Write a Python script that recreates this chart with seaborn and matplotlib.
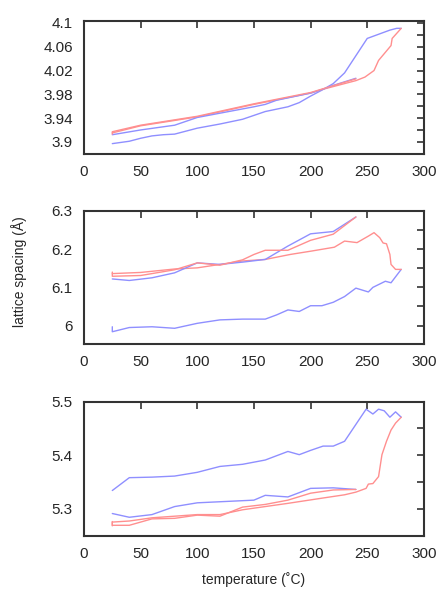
import numpy as np
import pandas as pd
import seaborn as sns
from matplotlib import pyplot as plt

# ---- top panel (a axis) ----
top_heat1_T = [25, 40, 50, 60, 70, 80, 100, 120, 140, 160, 180, 190, 200, 210, 220, 230, 250, 260, 270, 276, 280]
top_heat1_a = [3.897, 3.901, 3.906, 3.910, 3.912, 3.913, 3.923, 3.930, 3.938, 3.951, 3.959, 3.966, 3.977,
               3.987, 3.998, 4.016, 4.074, 4.081, 4.088, 4.091, 4.091]
top_cool1_T = [280, 272, 271, 260, 256, 248, 240, 230, 220, 210, 200, 150, 100, 50, 25]
top_cool1_a = [4.091, 4.074, 4.062, 4.037, 4.020, 4.009, 4.003, 3.998, 3.993, 3.988, 3.982, 3.963, 3.942,
               3.927, 3.915]
top_heat2_T = [25, 50, 80, 100, 150, 160, 170, 200, 210, 220, 240]
top_heat2_a = [3.912, 3.920, 3.928, 3.941, 3.959, 3.963, 3.970, 3.982, 3.988, 3.995, 4.007]
top_cool2_T = [240, 200, 150, 100, 50, 25, 25]
top_cool2_a = [4.006, 3.983, 3.964, 3.943, 3.928, 3.917, 3.913]

# ---- middle panel (c axis) ----
mid_heat1_T = [25, 25, 40, 60, 80, 100, 120, 140, 160, 170, 180, 190, 200, 210, 220, 230, 240, 251, 255,
               266, 271, 280]
mid_heat1_a = [5.997, 5.984, 5.995, 5.997, 5.993, 6.006, 6.015, 6.017, 6.017, 6.028, 6.041, 6.037, 6.052,
               6.052, 6.061, 6.076, 6.098, 6.088, 6.100, 6.116, 6.112, 6.147]
mid_cool1_T = [280, 275, 271, 270, 267, 264, 261, 256, 251, 241, 230, 221, 201, 182, 160, 140, 120, 100,
               80, 50, 25, 25]
mid_cool1_a = [6.147, 6.147, 6.160, 6.186, 6.214, 6.216, 6.230, 6.243, 6.234, 6.217, 6.221, 6.205, 6.195,
               6.186, 6.173, 6.169, 6.160, 6.151, 6.148, 6.139, 6.136, 6.140]
mid_heat2_T = [25, 40, 60, 80, 100, 120, 140, 160, 180, 200, 220, 240]
mid_heat2_a = [6.122, 6.118, 6.125, 6.138, 6.164, 6.160, 6.166, 6.173, 6.208, 6.240, 6.246, 6.284]
mid_cool2_T = [240, 220, 200, 180, 160, 150, 140, 120, 100, 80, 50, 25, 25]
mid_cool2_a = [6.284, 6.239, 6.223, 6.197, 6.197, 6.186, 6.172, 6.158, 6.164, 6.146, 6.131, 6.129, 6.136]

# ---- bottom panel (b axis) ----
bot_heat1_T = [25, 40, 60, 80, 100, 120, 140, 160, 180, 190, 200, 211, 220, 230, 249, 255, 260, 265, 270,
               275, 280]
bot_heat1_a = [5.334, 5.358, 5.359, 5.361, 5.368, 5.379, 5.383, 5.391, 5.407, 5.401, 5.409, 5.417, 5.417,
               5.426, 5.486, 5.477, 5.486, 5.483, 5.471, 5.481, 5.471]
bot_cool1_T = [280, 275, 271, 267, 263, 260, 255, 251, 249, 240, 230, 211, 180, 160, 140, 120, 100, 80,
               60, 40, 25, 25]
bot_cool1_a = [5.471, 5.460, 5.447, 5.426, 5.401, 5.360, 5.347, 5.346, 5.338, 5.331, 5.326, 5.320, 5.310,
               5.304, 5.298, 5.289, 5.289, 5.286, 5.283, 5.277, 5.275, 5.268]
bot_heat2_T = [25, 40, 60, 80, 100, 120, 150, 160, 180, 200, 220, 240]
bot_heat2_a = [5.291, 5.284, 5.289, 5.304, 5.311, 5.313, 5.316, 5.325, 5.322, 5.338, 5.339, 5.336]
bot_cool2_T = [240, 220, 200, 180, 160, 140, 120, 100, 80, 60, 40, 25, 25]
bot_cool2_a = [5.336, 5.335, 5.329, 5.316, 5.308, 5.303, 5.286, 5.288, 5.282, 5.281, 5.269, 5.269, 5.276]

BLUE = "#8f8fff"
RED = "#ff8f8f"

panels = [
    dict(curves=[(top_heat1_T, top_heat1_a, BLUE), (top_cool1_T, top_cool1_a, RED),
                 (top_heat2_T, top_heat2_a, BLUE), (top_cool2_T, top_cool2_a, RED)],
         ylim=(3.88, 4.103), ticks=np.arange(3.90, 4.101, 0.02),
         labels=["3.9", "", "3.94", "", "3.98", "", "4.02", "", "4.06", "", "4.1"],
         rect=[0.19, 0.739, 0.769, 0.225]),
    dict(curves=[(mid_heat1_T, mid_heat1_a, BLUE), (mid_cool1_T, mid_cool1_a, RED),
                 (mid_heat2_T, mid_heat2_a, BLUE), (mid_cool2_T, mid_cool2_a, RED)],
         ylim=(5.952, 6.3), ticks=np.arange(6.0, 6.301, 0.05),
         labels=["6", "", "6.1", "", "6.2", "", "6.3"],
         rect=[0.19, 0.416, 0.769, 0.226]),
    dict(curves=[(bot_heat1_T, bot_heat1_a, BLUE), (bot_cool1_T, bot_cool1_a, RED),
                 (bot_heat2_T, bot_heat2_a, BLUE), (bot_cool2_T, bot_cool2_a, RED)],
         ylim=(5.249, 5.5), ticks=np.arange(5.30, 5.501, 0.05),
         labels=["5.3", "", "5.4", "", "5.5"],
         rect=[0.19, 0.090, 0.769, 0.228]),
]

sns.set_style("white")
plt.rcParams['font.family'] = ['Liberation Sans', 'DejaVu Sans']

fig = plt.figure(figsize=(4.42, 5.89), dpi=100)

for p in panels:
    ax = fig.add_axes(p["rect"])
    for T, a, col in p["curves"]:
        df = pd.DataFrame({"T": T, "a": a})
        sns.lineplot(data=df, x="T", y="a", sort=False, estimator=None, color=col,
                     linewidth=1.0, ax=ax)
    ax.set_xlim(0, 300)
    ax.set_ylim(*p["ylim"])
    ax.set_xticks([0, 50, 100, 150, 200, 250, 300])
    ax.set_yticks(p["ticks"])
    ax.set_yticklabels(p["labels"])
    ax.set_xlabel("")
    ax.set_ylabel("")
    ax.tick_params(direction="in", top=True, right=True, length=5, width=1.2,
                   color="#333333", labelsize=11, pad=8)
    for s in ax.spines.values():
        s.set_linewidth(1.5)
        s.set_color("#333333")

fig.text(0.043, 0.539, "lattice spacing (Å)", rotation=90, ha="center", va="center", fontsize=10)
fig.text(0.574, 0.004, "temperature (˚C)", ha="center", va="bottom", fontsize=10)

fig.savefig("out.png", dpi=100)
